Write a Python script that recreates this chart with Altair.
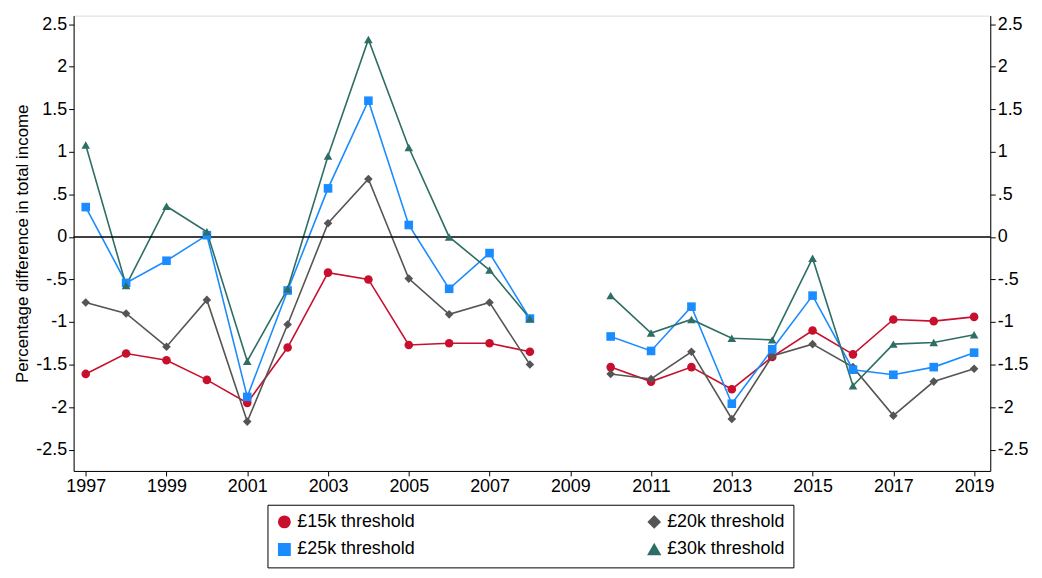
import altair as alt
import pandas as pd

years = [1997, 1998, 1999, 2000, 2001, 2002, 2003, 2004, 2005, 2006, 2007, 2008,
         2010, 2011, 2012, 2013, 2014, 2015, 2016, 2017, 2018, 2019]
t15 = [-1.61, -1.37, -1.45, -1.68, -1.95, -1.30, -0.42, -0.50, -1.27, -1.25, -1.25, -1.35,
       -1.53, -1.70, -1.53, -1.79, -1.41, -1.10, -1.38, -0.97, -0.99, -0.94]
t20 = [-0.77, -0.90, -1.29, -0.74, -2.17, -1.03, 0.16, 0.68, -0.49, -0.91, -0.77, -1.50,
       -1.61, -1.67, -1.35, -2.14, -1.40, -1.26, -1.53, -2.10, -1.70, -1.55]
t25 = [0.35, -0.54, -0.28, 0.02, -1.88, -0.63, 0.57, 1.60, 0.14, -0.61, -0.19, -0.96,
       -1.17, -1.34, -0.82, -1.96, -1.32, -0.69, -1.56, -1.62, -1.53, -1.36]
t30 = [1.08, -0.57, 0.36, 0.06, -1.46, -0.61, 0.95, 2.32, 1.05, 0.0, -0.39, -0.96,
       -0.69, -1.13, -0.97, -1.19, -1.21, -0.25, -1.75, -1.26, -1.24, -1.15]

series = ["£15k threshold", "£20k threshold", "£25k threshold", "£30k threshold"]
colors = ["#c8102e", "#555555", "#1a8cff", "#2e6e64"]
shapes = ["circle", "diamond", "square", "triangle-up"]
# legend fills column by column, so order the domain to read row by row
order = [0, 2, 1, 3]
dom = [series[i] for i in order]

rows = []
for name, vals in zip(series, [t15, t20, t25, t30]):
    for yr, v in zip(years, vals):
        rows.append({"year": yr, "value": v, "series": name, "seg": name + ("a" if yr < 2009 else "b")})
df = pd.DataFrame(rows)

ticks = [-2.5, -2, -1.5, -1, -0.5, 0, 0.5, 1, 1.5, 2, 2.5]
lab = "replace(replace(format(datum.value, '~g'), '0.', '.'), '−', '-')"

x = alt.X("year:Q", scale=alt.Scale(domain=[1996.7, 2019.4], nice=False),
          axis=alt.Axis(values=list(range(1997, 2020, 2)), format="d", title=None,
                        grid=False, labelFontSize=18, labelColor="black", tickColor="black",
                        domainColor="black"))
yscale = alt.Scale(domain=[-2.75, 2.6], nice=False)
color = alt.Color("series:N", scale=alt.Scale(domain=dom, range=[colors[i] for i in order]),
                  legend=alt.Legend(title=None, orient="none", legendX=195, legendY=492,
                                    columns=2, labelFontSize=18,
                                    strokeColor="black", padding=8, symbolSize=120,
                                    columnPadding=230, rowPadding=8, labelLimit=300,
                                    symbolStrokeWidth=2))
shape = alt.Shape("series:N", scale=alt.Scale(domain=dom, range=[shapes[i] for i in order]),
                  legend=None)

base = alt.Chart(df)
lines = base.mark_line(strokeWidth=1.6).encode(
    x=x,
    y=alt.Y("value:Q", scale=yscale,
            axis=alt.Axis(values=ticks, labelExpr=lab, title="Percentage difference in total income",
                          titleFontSize=17, titleFontWeight="normal", labelFontSize=18, grid=False,
                          labelColor="black", tickColor="black", domainColor="black")),
    color=color, detail="seg:N")
points = base.mark_point(filled=True, size=75, opacity=1).encode(
    x=x, y=alt.Y("value:Q", scale=yscale, axis=None), color=color, shape=shape)
right = base.mark_point(opacity=0).encode(
    x=x,
    y=alt.Y("value:Q", scale=yscale,
            axis=alt.Axis(values=ticks, labelExpr=lab, orient="right", title=None, labelFontSize=18,
                          grid=False, labelColor="black", tickColor="black", domainColor="black")))
zero = alt.Chart(pd.DataFrame({"z": [0]})).mark_rule(color="black", strokeWidth=1.5).encode(
    y=alt.Y("z:Q", scale=yscale, axis=None))

chart = alt.layer(lines, zero, points, right).resolve_scale(y="independent").properties(
    width=922, height=458
).configure_view(stroke="black").configure(font="Liberation Sans")

chart.save("out.html", embed_options={"renderer": "svg", "actions": False})
